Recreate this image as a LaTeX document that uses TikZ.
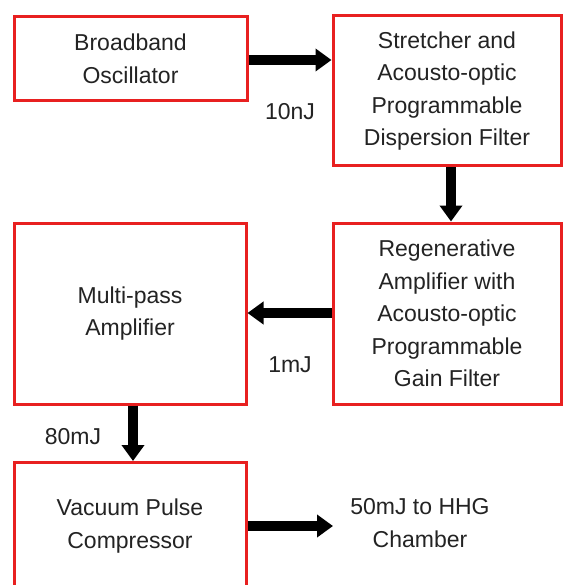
\documentclass[tikz,border=0pt]{standalone}
\usepackage{fontspec}
\setmainfont{Liberation Sans}
\usetikzlibrary{arrows.meta}
\definecolor{boxred}{RGB}{232,32,32}
\definecolor{txt}{RGB}{35,35,35}
\tikzset{
  blk/.style={draw=boxred, line width=3pt, rectangle, inner sep=0pt, align=center, text=txt,
    font=\fontsize{23}{32.5}\selectfont},
  lbl/.style={inner sep=0pt, align=center, text=txt, font=\fontsize{23}{32.5}\selectfont},
  flow/.style={line width=10pt, -{Triangle[width=22pt,length=16pt]}, black}
}
\begin{document}
\begin{tikzpicture}[x=1pt,y=-1pt]
\useasboundingbox (0,0) rectangle (564,585);
\clip (0,0) rectangle (564,585);
\fill[white] (0,0) rectangle (564,585);
\node[blk, minimum width=233pt, minimum height=84pt] (osc) at (130.5,59) {Broadband\\Oscillator};
\node[blk, minimum width=228pt, minimum height=150pt] (str) at (447,91) {Stretcher and\\Acousto-optic\\Programmable\\Dispersion Filter};
\node[blk, minimum width=228pt, minimum height=181pt] (reg) at (447,313.5) {Regenerative\\Amplifier with\\Acousto-optic\\Programmable\\Gain Filter};
\node[blk, minimum width=232pt, minimum height=181pt] (mp) at (130,313.5) {Multi-pass\\Amplifier};
\node[blk, minimum width=232pt, minimum height=127pt] (vac) at (130,526) {Vacuum Pulse\\Compressor};
\node[lbl] (l10) at (290,112) {10nJ};
\node[lbl] (l1) at (290,365) {1mJ};
\node[lbl] (l80) at (73,437) {80mJ};
\node[lbl] (hhg) at (420,523) {50mJ to HHG\\Chamber};
\coordinate (out) at (333,526);
\draw[flow] (osc.east |- 0,60) -- (str.west |- 0,60);
\draw[flow] (str.south -| 451,0) -- (reg.north -| 451,0);
\draw[flow] (reg.west |- 0,313) -- (mp.east |- 0,313);
\draw[flow] (mp.south -| 133,0) -- (vac.north -| 133,0);
\draw[flow] (vac.east |- out) -- (out);
\end{tikzpicture}
\end{document}
